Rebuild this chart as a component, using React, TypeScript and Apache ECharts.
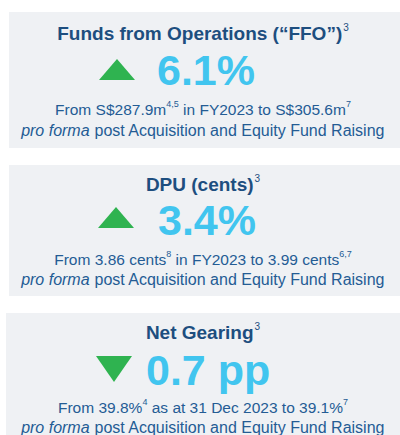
import React, { useEffect, useRef } from "react";
import * as echarts from "echarts";

// ---- data ----
const titles = ["Funds from Operations (“FFO”)", "DPU (cents)", "Net Gearing"];
const titleNotes = ["3", "3", "3"];
const changeValues = ["6.1%", "3.4%", "0.7 pp"];
const directions = ["up", "up", "down"];
const fromLines = [
  "From S$287.9m{sup|4,5} in FY2023 to S$305.6m{sup|7}",
  "From 3.86 cents{sup|8} in FY2023 to 3.99 cents{sup|6,7}",
  "From 39.8%{sup|4} as at 31 Dec 2023 to 39.1%{sup|7}",
];
const basisLine = "{it|pro forma} post Acquisition and Equity Fund Raising";

// ---- layout (positions, not data) ----
const panels = [
  { x: 9, y: 12, h: 136, titleY: 32, valY: 70, triX: 99, triY: 59, valX: 157, l3: 108, l4: 130 },
  { x: 9, y: 165, h: 131, titleY: 183, valY: 220, triX: 98, triY: 207, valX: 158, l3: 258, l4: 279 },
  { x: 6, y: 313, h: 130, titleY: 331, valY: 370, triX: 96, triY: 356, valX: 146, l3: 406, l4: 427 },
];

const C_BG = "#eff1f4";
const C_TITLE = "#1d4e7f";
const C_VAL = "#41c5ef";
const C_GREEN = "#2fb350";
const C_BODY = "#245c94";
const FONT = "'Liberation Sans', Arial, sans-serif";
const CX = 203;

export default function App() {
  const ref = useRef<HTMLDivElement>(null);
  useEffect(() => {
    const chart = echarts.init(ref.current!, null, { renderer: "svg" });
    const elements: any[] = [];
    panels.forEach((p, i) => {
      elements.push({
        type: "rect",
        shape: { x: p.x, y: p.y, width: 400 - p.x, height: p.h },
        style: { fill: C_BG },
        silent: true,
      });
      elements.push({
        type: "text",
        x: CX,
        y: p.titleY,
        style: {
          text: `{t|${titles[i]}}{s|${titleNotes[i]}}`,
          align: "center",
          verticalAlign: "middle",
          rich: {
            t: { fontFamily: FONT, fontSize: 19, fontWeight: "bold", fill: C_TITLE, lineHeight: 22, verticalAlign: "bottom" },
            s: { fontFamily: FONT, fontSize: 10, fill: C_TITLE, lineHeight: 22, verticalAlign: "top", padding: [1, 0, 0, 1] },
          },
        },
      });
      const w = 36, h = 21;
      const pts =
        directions[i] === "up"
          ? [[p.triX + w / 2, p.triY], [p.triX + w, p.triY + h], [p.triX, p.triY + h]]
          : [[p.triX, p.triY], [p.triX + w, p.triY], [p.triX + w / 2, p.triY + 26]];
      elements.push({ type: "polygon", shape: { points: pts }, style: { fill: C_GREEN } });
      elements.push({
        type: "text",
        x: p.valX,
        y: p.valY,
        style: {
          text: changeValues[i],
          fontFamily: FONT,
          fontSize: 43,
          fontWeight: "bold",
          fill: C_VAL,
          align: "left",
          verticalAlign: "middle",
        },
      });
      elements.push({
        type: "text",
        x: CX,
        y: p.l3,
        style: {
          text: fromLines[i].replace(/^([^{]*)/, "{n|$1}").replace(/\}([^{}]+)\{/g, "}{n|$1}{"),
          align: "center",
          verticalAlign: "middle",
          rich: {
            n: { fontFamily: FONT, fontSize: 15.5, fill: C_BODY, lineHeight: 18, verticalAlign: "bottom" },
            sup: { fontFamily: FONT, fontSize: 9, fill: C_BODY, lineHeight: 18, verticalAlign: "top" },
          },
        },
      });
      elements.push({
        type: "text",
        x: CX,
        y: p.l4,
        style: {
          text: basisLine.replace("} post", "}{n| post}").replace(/\{n\| post\}(.*)$/, "{n| post$1}"),
          align: "center",
          verticalAlign: "middle",
          rich: {
            n: { fontFamily: FONT, fontSize: 16, fill: C_BODY },
            it: { fontFamily: FONT, fontSize: 16, fill: C_BODY, fontStyle: "italic" },
          },
        },
      });
    });
    chart.setOption({ animation: false, graphic: { elements } });
    return () => chart.dispose();
  }, []);
  return (
    <div
      ref={ref}
      style={{ position: "fixed", left: 0, top: 0, width: 400, height: 435, background: "#ffffff" }}
    />
  );
}
